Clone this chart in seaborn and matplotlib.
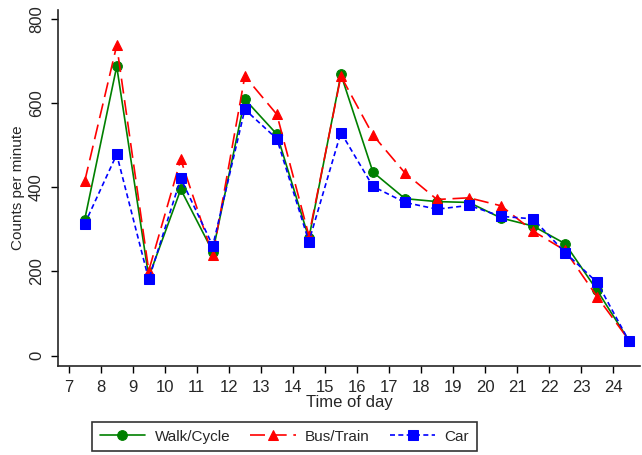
import numpy as np
import pandas as pd
import matplotlib
matplotlib.use("Agg")
import matplotlib.pyplot as plt
import seaborn as sns

# data
horas = [7.5, 8.5, 9.5, 10.5, 11.5, 12.5, 13.5, 14.5, 15.5,
         16.5, 17.5, 18.5, 19.5, 20.5, 21.5, 22.5, 23.5, 24.5]
walk_cycle = [323, 687, 187, 395, 247, 609, 526, 279, 668,
              436, 373, 366, 364, 327, 308, 266, 155, 35]
bus_train = [414, 737, 202, 466, 238, 664, 573, 285, 664,
             524, 434, 371, 375, 356, 296, 250, 140, 36]
car = [313, 478, 181, 421, 261, 585, 515, 271, 530,
       402, 364, 348, 357, 331, 325, 245, 174, 34]
series_names = ["Walk/Cycle", "Bus/Train", "Car"]
x_ticks = list(range(7, 25))
y_ticks = [0, 200, 400, 600, 800]

sns.set_style("ticks")
plt.rcParams['font.family'] = ['Liberation Sans Narrow', 'Liberation Sans', 'DejaVu Sans']

df = pd.DataFrame({
    "hora": horas * 3,
    "valor": walk_cycle + bus_train + car,
    "modo": [series_names[0]] * len(horas) + [series_names[1]] * len(horas)
            + [series_names[2]] * len(horas),
})

fig = plt.figure(figsize=(6.42, 4.55), dpi=100)
ax = fig.add_axes([0.09, 0.196, 0.907, 0.782])

estilos = {
    "Walk/Cycle": dict(color="#008000", marker="o", dashes=None),
    "Bus/Train": dict(color="#ff0000", marker="^", dashes=(9, 4)),
    "Car": dict(color="#0000ff", marker="s", dashes=(3, 2)),
}

for nombre in series_names:
    e = estilos[nombre]
    kw = dict(
        data=df[df["modo"] == nombre], x="hora", y="valor",
        color=e["color"], marker=e["marker"], markersize=7,
        markeredgecolor=e["color"], linewidth=1.2, label=nombre, ax=ax,
        legend=False,
    )
    if e["dashes"] is not None:
        kw["dashes"] = e["dashes"]
    sns.lineplot(**kw)

ax.set_xlim(6.66, 24.84)
ax.set_ylim(-24, 821)
ax.set_xticks(x_ticks)
ax.set_yticks(y_ticks)
ax.tick_params(axis="both", direction="out", length=5, width=1, labelsize=12,
               color="black", pad=5)
for lab in ax.get_yticklabels():
    lab.set_rotation(90)
    lab.set_va("center")
sns.despine(ax=ax)
ax.spines["left"].set_linewidth(1.2)
ax.spines["bottom"].set_linewidth(1.2)
ax.set_xlabel("Time of day", fontsize=12, labelpad=0)
ax.set_ylabel("Counts per minute", fontsize=11, labelpad=3)

handles = ax.get_lines()[:3]
leg = fig.legend(handles, series_names, loc="center", bbox_to_anchor=(0.443, 0.04),
                 ncol=3, frameon=True, fancybox=False, edgecolor="black",
                 fontsize=11, handlelength=3.0, handletextpad=0.6,
                 columnspacing=1.3, borderpad=0.5)
leg.get_frame().set_linewidth(1.2)

fig.savefig("out.png", dpi=100)
